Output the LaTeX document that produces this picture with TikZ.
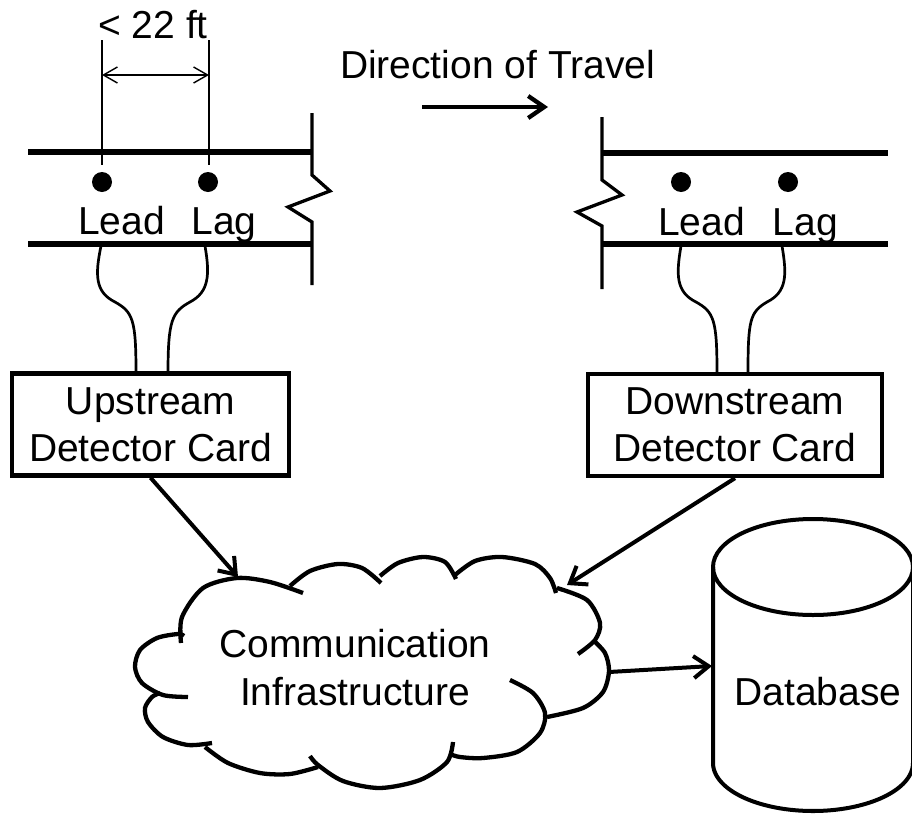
\documentclass[tikz,border=0pt]{standalone}
\usepackage{fontspec}
\setmainfont{Liberation Sans}
\usetikzlibrary{arrows.meta}
\begin{document}
\begin{tikzpicture}[x=1pt,y=-1pt,
  txt/.style={font=\fontsize{39}{47}\selectfont, inner sep=0pt, anchor=base},
  cardbox/.style={draw, line width=4.3pt, font=\fontsize{39}{47}\selectfont,
    align=center, inner sep=0pt},
  road/.style={line width=6pt},
  roadend/.style={line width=3.3pt, line join=miter},
  wire/.style={line width=2.7pt},
  dimline/.style={line width=1.6pt},
  dimarrow/.style={line width=1.4pt,
    {Straight Barb[length=14pt,width=16pt]}-{Straight Barb[length=14pt,width=16pt]}},
  conn/.style={line width=4pt, -{Straight Barb[length=15pt,width=22pt]}},
  cloudline/.style={line width=4.3pt, line join=round},
  dbline/.style={line width=4pt},
  detector/.style={circle, fill, inner sep=0pt, minimum size=20pt}
]
\useasboundingbox (0,0) rectangle (912,814);
\clip (0,0) rectangle (912,814);

% ---- upstream road section ----
\draw[road] (28,152) -- (312,152);
\draw[road] (28,244) -- (312,244);
\draw[roadend] (312,113) -- (312,175) -- (330,191) -- (288,207) -- (312,222) -- (312,285);
\node[detector] (ulead) at (102,182) {};
\node[detector] (ulag)  at (208,182) {};
\node[txt] (uleadtxt) at (121.5,234) {Lead};
\node[txt] (ulagtxt)  at (224,234) {Lag};

% spacing dimension between the loops
\draw[dimline] (102,40) -- (102,165);
\draw[dimline] (209,40) -- (209,165);
\coordinate (dimL) at (102,75);
\coordinate (dimR) at (209,75);
\draw[dimarrow] (dimL) -- (dimR);
\node[txt] (spacing) at (153,38) {< 22 ft};

% ---- downstream road section ----
\draw[road] (602,153) -- (888,153);
\draw[road] (602,244) -- (888,244);
\draw[roadend] (602,117) -- (602,180) -- (622,195) -- (577,212) -- (602,226) -- (602,289);
\node[detector] (dlead) at (681,182) {};
\node[detector] (dlag)  at (788,182) {};
\node[txt] (dleadtxt) at (701.5,235) {Lead};
\node[txt] (dlagtxt)  at (805.5,235) {Lag};

% direction of travel
\node[txt] (dirtxt) at (497.5,78) {Direction of Travel};
\coordinate (dirS) at (422,107);
\coordinate (dirE) at (548,107);
\draw[line width=4.3pt, -{Straight Barb[length=16pt,width=22pt]}] (dirS) -- (dirE);

% ---- detector cards ----
\node[cardbox, minimum width=277pt, minimum height=102pt] (upbox)
  at (150.5,424.5) {Upstream\\Detector Card};
\node[cardbox, minimum width=294pt, minimum height=102pt] (downbox)
  at (735,425) {Downstream\\Detector Card};

% loop lead-in wires
\draw[wire] (101,246) .. controls (95,275) and (95,292) .. (115,302)
            .. controls (133,312) and (136,320) .. (136,373);
\draw[wire] (205,246) .. controls (210,275) and (209,292) .. (190,302)
            .. controls (172,312) and (168,320) .. (168,373);
\draw[wire] (681,246) .. controls (676,275) and (676,292) .. (696,302)
            .. controls (714,312) and (717,320) .. (717,373);
\draw[wire] (782,246) .. controls (787,275) and (787,292) .. (767,302)
            .. controls (750,312) and (748,320) .. (748,373);

% ---- communication cloud ----
\begin{scope}[cloudline]
\draw plot[smooth] coordinates {(181,643) (182,617) (203,588) (237,578) (270,582) (303,593)};
\draw plot[smooth] coordinates {(290,586) (310,571) (338,564) (362,568) (381,583)};
\draw plot[smooth] coordinates {(380,576) (398,563) (423,557) (445,562) (456,579)};
\draw plot[smooth] coordinates {(455,575) (475,561) (502,557) (535,564) (550,578) (556,593)};
\draw plot[smooth] coordinates {(557,588) (587,600) (600,623) (595,640) (578,654)};
\draw plot[smooth] coordinates {(593,640) (605,653) (609,671) (603,692) (583,708) (547,717)};
\draw plot[smooth] coordinates {(510,680) (533,693) (545,713) (540,733) (517,752) (483,758) (460,757) (450,754)};
\draw plot[smooth] coordinates {(453,742) (447,762) (420,780) (380,788) (343,781) (318,765) (310,756)};
\draw plot[smooth] coordinates {(318,767) (290,774) (260,773) (228,763) (205,747)};
\draw plot[smooth] coordinates {(212,743) (188,745) (163,737) (148,722) (145,708) (152,697) (160,693)};
\draw plot[smooth] coordinates {(188,697) (163,695) (142,683) (135,667) (140,650) (157,638) (178,634) (184,636)};
\end{scope}
\node[txt] (commtxt) at (355,657) {Communication};
\node[txt] (infratxt) at (355,705) {Infrastructure};

% ---- database ----
\draw[dbline] (713,567) -- (713,763)
  -- plot[domain=180:0, samples=72] ({813+100*cos(\x)},{763+48*sin(\x)})
  -- (913,567);
\draw[dbline] (813,567) ellipse [x radius=100, y radius=48];
\node[txt] (db) at (818,705) {Database};

% ---- data flow connectors ----
\coordinate (cloudInUp)   at (238,577);
\coordinate (cloudInDown) at (567,585);
\coordinate (cloudOut)    at (609,672);
\coordinate (dbIn)        at (712,666);
\draw[conn] (upbox.south) -- (cloudInUp);
\draw[conn] (downbox.south) -- (cloudInDown);
\draw[conn] (cloudOut) -- (dbIn);
\end{tikzpicture}
\end{document}
